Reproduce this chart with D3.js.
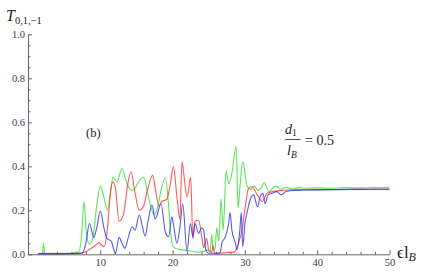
<!DOCTYPE html>
<html>
<head>
<meta charset="utf-8">
<script src="https://cdn.jsdelivr.net/npm/d3@7"></script>
<style>
  body { margin: 0; background: #fff; }
  svg, svg text { font-family: "Liberation Serif", "DejaVu Serif", serif; }
</style>
</head>
<body>
<div class="visHolder"></div>
<script>
// values, [energy, transmission]
const greenPoints = [
  [1.4,0.005],[2.0,0.005],[2.15,0.05],[2.3,0.005],[4,0.005],[6,0.006],[7.0,0.01],[7.4,0.08],
  [7.75,0.24],[8.1,0.09],[8.5,0.045],[9.0,0.08],[9.5,0.22],[10.0,0.31],[10.5,0.26],[11.0,0.2],
  [11.4,0.28],[11.75,0.35],[12.3,0.33],[13.0,0.39],[13.6,0.33],[14.3,0.29],[14.8,0.3],[15.3,0.33],
  [16.0,0.35],[16.6,0.27],[17.4,0.18],[17.9,0.21],[18.4,0.29],[19.0,0.35],[19.4,0.24],[19.7,0.11],
  [20.0,0.04],[20.5,0.025],[21.5,0.02],[22.5,0.015],[23.5,0.01],[24.3,0.012],[24.8,0.02],[25.2,0.01],
  [25.4,0.09],[25.6,0.02],[25.9,0.03],[26.1,0.12],[26.4,0.06],[26.7,0.25],[27.0,0.11],[27.4,0.38],
  [27.75,0.32],[28.2,0.37],[28.8,0.49],[29.05,0.21],[29.3,0.3],[29.7,0.42],[30.3,0.31],[30.8,0.295],
  [31.3,0.31],[31.8,0.29],[32.2,0.3],[32.7,0.325],[33.3,0.285],[34.2,0.31],[35.0,0.295],[35.7,0.305],
  [36.5,0.297],[37.5,0.303],[38.5,0.3],[40,0.302],[42,0.3],[44,0.303],[46,0.302],[48,0.303],[50,0.303]
];
const redPoints = [
  [1.4,0.003],[5,0.003],[7,0.005],[8,0.012],[8.6,0.024],[9.3,0.04],[9.8,0.053],[10.5,0.035],
  [11.0,0.12],[11.4,0.28],[11.75,0.33],[12.1,0.3],[12.6,0.15],[13.2,0.18],[13.8,0.32],[14.25,0.375],
  [14.8,0.28],[15.4,0.2],[16.0,0.22],[16.5,0.29],[17.25,0.36],[17.6,0.3],[18.1,0.22],[18.5,0.24],
  [19.2,0.25],[19.7,0.32],[20.1,0.4],[20.6,0.26],[21.0,0.16],[21.3,0.42],[21.6,0.35],[22.0,0.26],
  [22.5,0.35],[22.8,0.07],[23.1,0.15],[23.6,0.155],[24.1,0.065],[24.3,0.03],[24.7,0.073],[25.0,0.02],
  [25.4,0.01],[25.6,0.04],[25.8,0.005],[26.5,0.005],[27.5,0.008],[28.5,0.01],[29.1,0.05],[29.6,0.11],
  [30.05,0.216],[30.5,0.3],[31.0,0.307],[31.7,0.27],[32.4,0.24],[33.05,0.277],[33.8,0.285],[35,0.29],
  [36,0.292],[38,0.293],[40,0.294],[45,0.295],[50,0.296]
];
const bluePoints = [
  [1.4,0.002],[6,0.003],[7.5,0.005],[8.0,0.05],[8.5,0.14],[9.1,0.077],[9.5,0.12],[10.0,0.197],
  [10.5,0.12],[10.9,0.073],[11.5,0.06],[12.1,0.005],[12.6,0.077],[13.0,0.05],[13.4,0.027],[13.9,0.08],
  [14.4,0.125],[14.8,0.11],[15.4,0.18],[15.8,0.13],[16.2,0.083],[16.6,0.15],[17.15,0.224],[17.6,0.16],
  [18.4,0.23],[19.0,0.1],[19.45,0.08],[19.9,0.17],[20.1,0.14],[20.6,0.05],[21.0,0.12],[21.4,0.23],
  [22.0,0.012],[22.45,0.14],[22.8,0.08],[23.1,0.14],[23.6,0.095],[24.0,0.12],[24.3,0.11],[24.6,0.02],
  [25,0.005],[26.3,0.005],[26.6,0.01],[26.8,0.05],[27.3,0.08],[27.75,0.14],[27.95,0.19],[28.2,0.11],
  [28.7,0.05],[28.9,0.02],[29.3,0.11],[29.5,0.19],[29.7,0.035],[30.0,0.14],[30.3,0.19],[30.75,0.25],
  [31.2,0.27],[31.75,0.216],[32.1,0.26],[32.5,0.277],[32.8,0.23],[33.2,0.27],[33.75,0.277],[34.4,0.285],
  [35,0.27],[35.7,0.285],[36.5,0.29],[38,0.292],[40,0.293],[45,0.295],[50,0.296]
];

const xTicks = [10, 20, 30, 40, 50];
const xMinorTicks = d3.range(2, 50, 2).filter((v) => v % 10 !== 0);
const yTicks = [0, 0.2, 0.4, 0.6, 0.8, 1.0];
const yMinorTicks = d3.range(0.05, 1, 0.05).filter((v) => Math.abs(v * 5 - Math.round(v * 5)) > 1e-6);

const width = 437;
const height = 272;

const svg = d3
  .select(".visHolder")
  .append("svg")
  .attr("width", width)
  .attr("height", height);

const xScale = d3.scaleLinear().domain([0, 50]).range([28, 389.5]);
const yScale = d3.scaleLinear().domain([0, 1]).range([254.3, 34.3]);

const axisColor = "#555";
const labelColor = "#3a3a4c";

// minor ticks first
svg
  .append("g")
  .attr("transform", `translate(0, ${yScale(0)})`)
  .call(d3.axisBottom(xScale).tickValues(xMinorTicks).tickSize(-2.5).tickFormat(""))
  .call((g) => g.select(".domain").remove());
svg
  .append("g")
  .attr("transform", `translate(${xScale(0)}, 0)`)
  .call(d3.axisLeft(yScale).tickValues(yMinorTicks).tickSize(-2.5).tickFormat(""))
  .call((g) => g.select(".domain").remove());

const xAxis = d3.axisBottom(xScale).tickValues(xTicks).tickSize(-4).tickSizeOuter(0).tickPadding(4);
const yAxis = d3.axisLeft(yScale).tickValues(yTicks).tickSize(-4).tickSizeOuter(0).tickPadding(3)
  .tickFormat(d3.format(".1f"));

svg
  .append("g")
  .attr("id", "x-axis")
  .attr("transform", `translate(0, ${yScale(0)})`)
  .call(xAxis);
svg
  .append("g")
  .attr("id", "y-axis")
  .attr("transform", `translate(${xScale(0)}, 0)`)
  .call(yAxis);

svg.selectAll("g").attr("font-family", null);
svg.selectAll(".tick line").attr("stroke", axisColor).attr("stroke-width", 0.9);
svg.selectAll(".domain").attr("stroke", axisColor).attr("stroke-width", 0.9);
svg
  .selectAll(".tick text")
  .attr("fill", labelColor)
  .style("font-size", "10.5px");

const line = d3
  .line()
  .x((d) => xScale(d[0]))
  .y((d) => yScale(d[1]))
  .curve(d3.curveMonotoneX);

const series = [
  { pts: greenPoints, color: "#2ee02e" },
  { pts: redPoints, color: "#ff3030" },
  { pts: bluePoints, color: "#2d2df0" },
];

svg
  .selectAll("path.curve")
  .data(series)
  .enter()
  .append("path")
  .attr("class", "curve")
  .attr("d", (d) => line(d.pts))
  .attr("fill", "none")
  .attr("stroke", (d) => d.color)
  .attr("stroke-opacity", 0.8)
  .attr("stroke-width", 1.1)
  .attr("stroke-linejoin", "round");

// labels
const yLabel = svg.append("text").attr("x", 6).attr("y", 21).attr("fill", "#222");
yLabel.append("tspan").style("font-style", "italic").style("font-size", "16px").text("T");
yLabel.append("tspan").attr("dy", 3).style("font-size", "10.5px").text("0,1,\u22121");

svg
  .append("text")
  .attr("x", 86)
  .attr("y", 137)
  .attr("fill", "#222")
  .style("font-size", "12.5px")
  .text("(b)");

const frac = svg.append("g").attr("fill", "#222");
const num = frac.append("text").attr("x", 285).attr("y", 134).style("font-size", "14px");
num.append("tspan").style("font-style", "italic").text("d");
num.append("tspan").attr("dy", 2).style("font-size", "9.5px").text("1");
frac
  .append("line")
  .attr("x1", 285)
  .attr("x2", 300.5)
  .attr("y1", 139.5)
  .attr("y2", 139.5)
  .attr("stroke", "#222")
  .attr("stroke-width", 0.8);
const den = frac.append("text").attr("x", 287).attr("y", 155).style("font-size", "14px");
den.append("tspan").style("font-style", "italic").text("l");
den.append("tspan").attr("dy", 3).style("font-size", "9.5px").style("font-style", "italic").text("B");
frac
  .append("text")
  .attr("x", 305)
  .attr("y", 145)
  .style("font-size", "14px")
  .text("= 0.5");

const xLabel = svg.append("text").attr("x", 397).attr("y", 258).attr("fill", "#222");
xLabel.append("tspan").style("font-size", "17px").text("\u03f5l");
xLabel.append("tspan").attr("dy", 3).style("font-size", "12px").style("font-style", "italic").text("B");
</script>
</body>
</html>
